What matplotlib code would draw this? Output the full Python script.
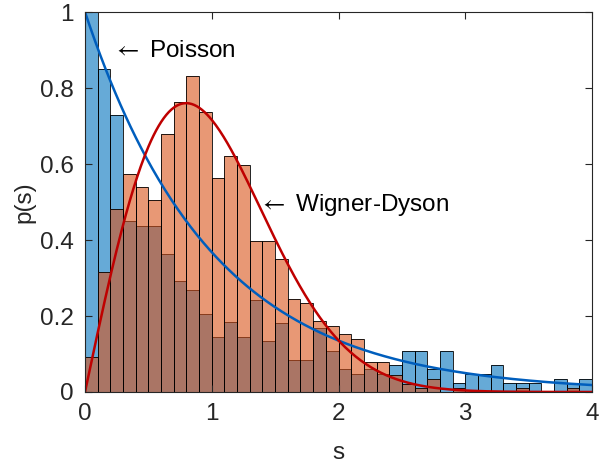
import numpy as np
import matplotlib
matplotlib.use('agg')
import matplotlib.pyplot as plt

plt.rcParams['font.family'] = ['Liberation Sans', 'DejaVu Sans']
plt.rcParams['mathtext.fontset'] = 'stix'

# bin left edges (width 0.1) and histogram heights
edges = [round(0.1 * i, 1) for i in range(40)]
poisson_hist = [1.0, 0.849, 0.729, 0.450, 0.437, 0.437, 0.363, 0.291, 0.269, 0.206,
                0.146, 0.183, 0.146, 0.243, 0.133, 0.181, 0.085, 0.085, 0.168, 0.107,
                0.060, 0.047, 0.060, 0.047, 0.070, 0.108, 0.108, 0.060, 0.108, 0.024,
                0.047, 0.047, 0.072, 0.024, 0.024, 0.024, 0.0, 0.035, 0.024, 0.035]
wigner_hist = [0.092, 0.316, 0.481, 0.574, 0.539, 0.504, 0.680, 0.762, 0.831, 0.737,
               0.562, 0.621, 0.598, 0.398, 0.398, 0.350, 0.244, 0.234, 0.186, 0.175,
               0.152, 0.139, 0.080, 0.080, 0.045, 0.022, 0.011, 0.034, 0.0, 0.010,
               0.005, 0.0, 0.0, 0.0, 0.011, 0.0, 0.0, 0.0, 0.011, 0.0]

blue = (0, 0.447, 0.741)
orange = (0.85, 0.325, 0.098)
grey = (0.15, 0.15, 0.15)

fig = plt.figure(figsize=(6.08, 4.66), dpi=100)
ax = fig.add_axes([0.1398, 0.1588, 0.9737 - 0.1398, 0.9742 - 0.1588])

ax.bar(edges, poisson_hist, width=0.1, align='edge', color=blue, alpha=0.6,
       edgecolor='none')
ax.bar(edges, poisson_hist, width=0.1, align='edge', facecolor='none',
       edgecolor='black', linewidth=0.6)
ax.bar(edges, wigner_hist, width=0.1, align='edge', color=orange, alpha=0.6,
       edgecolor='none')
ax.bar(edges, wigner_hist, width=0.1, align='edge', facecolor='none',
       edgecolor='black', linewidth=0.6)

s = np.linspace(0, 4, 400)
ax.plot(s, np.exp(-s), color=(0, 0.37, 0.74), linewidth=1.8)
ax.plot(s, np.pi / 2 * s * np.exp(-np.pi * s ** 2 / 4), color=(0.75, 0, 0), linewidth=1.8)

ax.text(0.22, 0.897, r'$\leftarrow$ Poisson', fontsize=17.5, va='center', ha='left', color='black')
ax.text(1.37, 0.492, r'$\leftarrow$ Wigner-Dyson', fontsize=17.5, va='center', ha='left', color='black')

ax.set_xlim(0, 4)
ax.set_ylim(0, 1)
ax.set_xticks([0, 1, 2, 3, 4])
ax.set_yticks([0, 0.2, 0.4, 0.6, 0.8, 1])
ax.set_yticklabels(['0', '0.2', '0.4', '0.6', '0.8', '1'])
ax.tick_params(direction='in', top=True, right=True, length=5, width=0.8,
               colors=grey, labelsize=17.5, pad=8)
for sp in ax.spines.values():
    sp.set_color(grey)
    sp.set_linewidth(0.8)
ax.set_xlabel('s', fontsize=17.5, color=grey, labelpad=12)
ax.set_ylabel('p(s)', fontsize=17.5, color=grey, labelpad=3)

fig.savefig('out.png', dpi=100)
